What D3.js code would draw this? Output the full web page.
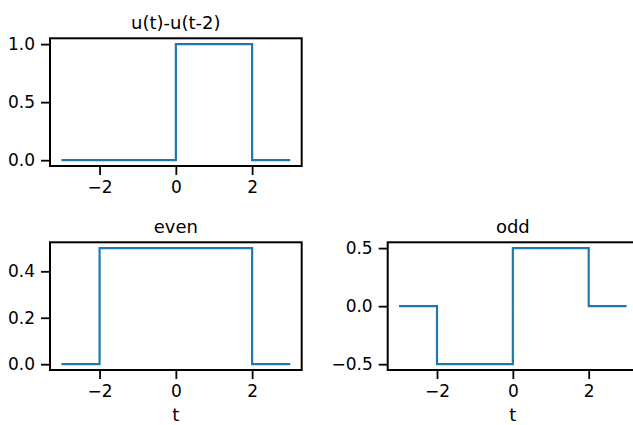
<!DOCTYPE html>
<html>
<head>
<meta charset="utf-8">
<script src="https://cdn.jsdelivr.net/npm/d3@7"></script>
<style>
  body { margin: 0; background: #fff; }
  svg text { font-family: "DejaVu Sans", sans-serif; fill: #000; }
  .tick line { stroke: #000; stroke-width: 1.8; }
  .domain { display: none; }
</style>
</head>
<body>
<div class="chart"></div>
<script>
var svgWidth = 633;
var svgHeight = 425;

// step signal data (breakpoints)
var tPulse = [-3, 0, 0, 2, 2, 3];
var yPulse = [0, 0, 1, 1, 0, 0];

var tEven = [-3, -2, -2, 2, 2, 3];
var yEven = [0, 0, 0.5, 0.5, 0, 0];

var tOdd = [-3, -2, -2, 0, 0, 2, 2, 3];
var yOdd = [0, 0, -0.5, -0.5, 0.5, 0.5, 0, 0];

var xTicks = [-2, 0, 2];
var pulseTicks = [0, 0.5, 1];
var evenTicks = [0, 0.2, 0.4];
var oddTicks = [-0.5, 0, 0.5];

var svg = d3.select(".chart")
  .append("svg")
  .attr("width", svgWidth)
  .attr("height", svgHeight);

// draw one subplot
function drawPanel(box, t, y, yDomain, yTicks, title, xLabel) {
  var w = box.right - box.left;
  var h = box.bottom - box.top;
  var g = svg.append("g")
    .attr("transform", `translate(${box.left}, ${box.top})`);

  var xScale = d3.scaleLinear().domain([-3.3, 3.3]).range([0, w]);
  var yScale = d3.scaleLinear().domain(yDomain).range([h, 0]);

  var bottomAxis = d3.axisBottom(xScale)
    .tickValues(xTicks)
    .tickSize(9)
    .tickPadding(6)
    .tickFormat(d => d < 0 ? "\u2212" + Math.abs(d) : d);
  var leftAxis = d3.axisLeft(yScale)
    .tickValues(yTicks)
    .tickSize(9)
    .tickPadding(6)
    .tickFormat(d => (d < 0 ? "\u2212" : "") + d3.format(".1f")(Math.abs(d)));

  g.append("g")
    .attr("transform", `translate(0, ${h})`)
    .call(bottomAxis)
    .selectAll("text")
    .style("font-size", "17px");

  g.append("g")
    .call(leftAxis)
    .selectAll("text")
    .style("font-size", "17px");

  var line = d3.line()
    .x((d, i) => xScale(t[i]))
    .y((d, i) => yScale(d));

  g.append("path")
    .datum(y)
    .attr("d", line)
    .attr("fill", "none")
    .attr("stroke", "#1f77b4")
    .attr("stroke-width", 2.2);

  // frame
  g.append("rect")
    .attr("width", w)
    .attr("height", h)
    .attr("fill", "none")
    .attr("stroke", "#000")
    .attr("stroke-width", 2);

  g.append("text")
    .attr("x", w / 2)
    .attr("y", -9)
    .attr("text-anchor", "middle")
    .style("font-size", "18px")
    .text(title);

  if (xLabel) {
    g.append("text")
      .attr("x", w / 2)
      .attr("y", h + 51)
      .attr("text-anchor", "middle")
      .style("font-size", "18px")
      .text(xLabel);
  }
}

drawPanel({left: 50, right: 301.7, top: 38.3, bottom: 166},
  tPulse, yPulse, [-0.05, 1.05], pulseTicks, "u(t)-u(t-2)", null);

drawPanel({left: 50, right: 301.7, top: 242.3, bottom: 370},
  tEven, yEven, [-0.025, 0.525], evenTicks, "even", "t");

drawPanel({left: 387.7, right: 638, top: 242.3, bottom: 370},
  tOdd, yOdd, [-0.55, 0.55], oddTicks, "odd", "t");
</script>
</body>
</html>
